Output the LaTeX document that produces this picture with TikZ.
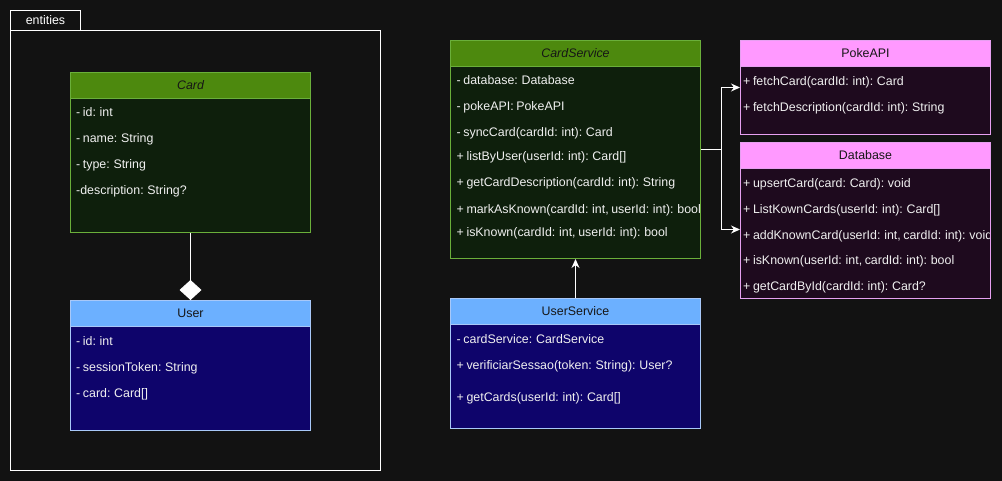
\documentclass[tikz,border=0pt]{standalone}
\usepackage{fontspec}
\setmainfont{Liberation Sans}[WordSpace=0.75]
\usetikzlibrary{arrows.meta,calc}
\definecolor{bg}{RGB}{18,18,18}
\definecolor{gHead}{RGB}{77,137,14}
\definecolor{gBody}{RGB}{14,31,12}
\definecolor{gLine}{RGB}{106,175,58}
\definecolor{bHead}{RGB}{108,176,255}
\definecolor{bBody}{RGB}{14,4,107}
\definecolor{bLine}{RGB}{168,200,248}
\definecolor{pHead}{RGB}{255,153,255}
\definecolor{pBody}{RGB}{30,10,30}
\definecolor{pLine}{RGB}{230,160,240}
\definecolor{txt}{RGB}{240,240,240}
\definecolor{htxt}{RGB}{22,22,22}
\begin{document}
\begin{tikzpicture}[x=1pt,y=-1pt,
  font=\fontsize{12.4}{14}\selectfont,
  box/.style={draw, line width=1pt, anchor=north west, inner sep=0pt},
  gbox/.style={box, draw=gLine, fill=gBody},
  bbox/.style={box, draw=bLine, fill=bBody},
  pbox/.style={box, draw=pLine, fill=pBody},
  head/.style={draw, line width=1pt, anchor=north west, minimum height=26pt, inner sep=0pt, text=htxt},
  ghead/.style={head, draw=gLine, fill=gHead},
  bhead/.style={head, draw=bLine, fill=bHead},
  phead/.style={head, draw=pLine, fill=pHead},
  row/.style={anchor=base west, inner sep=0pt, text=txt},
  frame/.style={draw=white, line width=1pt},
  conn/.style={draw=white, line width=1pt, -{Stealth[length=9pt,width=8pt]}},
  aggr/.style={draw=white, line width=1pt, -{Diamond[length=20pt,width=22pt,fill=white]}},
]
\useasboundingbox[fill=bg] (0,0) rectangle (1002,481);

% package frame
\node[frame, anchor=north west, minimum width=70pt, minimum height=20pt, inner sep=0pt, text=white] (enttab) at (10,10) {entities};
\node[frame, anchor=north west, minimum width=370pt, minimum height=440pt, inner sep=0pt] (entframe) at (10,30) {};

% Card
\node[gbox, minimum width=240pt, minimum height=160pt] (card) at (70,72) {};
\node[ghead, minimum width=240pt] (cardh) at (card.north west) {\itshape Card};
\node[row] (card1) at (76,117) {- id: int};
\node[row] (card2) at (76,143) {- name: String};
\node[row] (card3) at (76,169) {- type: String};
\node[row] (card4) at (76,195) {-description: String?};

% User
\node[bbox, minimum width=240pt, minimum height=130pt] (user) at (70,300) {};
\node[bhead, minimum width=240pt] (userh) at (user.north west) {User};
\node[row] (user1) at (76,345) {- id: int};
\node[row] (user2) at (76,371) {- sessionToken: String};
\node[row] (user3) at (76,397) {- card: Card[]};

% CardService
\node[gbox, minimum width=250pt, minimum height=218pt] (cs) at (450,40) {};
\node[ghead, minimum width=250pt] (csh) at (cs.north west) {\itshape CardService};
\begin{scope}
\clip (450,40) rectangle (699.5,258);
\node[row] (cs1) at (456.5,85) {- database: Database};
\node[row] (cs2) at (456.5,111) {- pokeAPI: PokeAPI};
\node[row] (cs3) at (456.5,137) {- syncCard(cardId: int): Card};
\node[row] (cs4) at (456.5,161) {+ listByUser(userId: int): Card[]};
\node[row] (cs5) at (456.5,187) {+ getCardDescription(cardId: int): String};
\node[row] (cs6) at (456.5,213.5) {+ markAsKnown(cardId: int, userId: int): bool};
\node[row] (cs7) at (456.5,237) {+ isKnown(cardId: int, userId: int): bool};
\end{scope}

% UserService
\node[bbox, minimum width=250pt, minimum height=130pt] (us) at (450,298) {};
\node[bhead, minimum width=250pt] (ush) at (us.north west) {UserService};
\node[row] (us1) at (456.5,343) {- cardService: CardService};
\node[row] (us2) at (456.5,369) {+ verificiarSessao(token: String): User?};
\node[row] (us3) at (456.5,401) {+ getCards(userId: int): Card[]};

% PokeAPI
\node[pbox, minimum width=250pt, minimum height=94pt] (poke) at (740,40) {};
\node[phead, minimum width=250pt] (pokeh) at (poke.north west) {PokeAPI};
\node[row] (poke1) at (743,85.5) {+ fetchCard(cardId: int): Card};
\node[row] (poke2) at (743,111.5) {+ fetchDescription(cardId: int): String};

% Database
\node[pbox, minimum width=250pt, minimum height=156pt] (db) at (740,142) {};
\node[phead, minimum width=250pt] (dbh) at (db.north west) {Database};
\begin{scope}
\clip (740,142) rectangle (989.5,298);
\node[row] (db1) at (743,188) {+ upsertCard(card: Card): void};
\node[row] (db2) at (743,214) {+ ListKownCards(userId: int): Card[]};
\node[row] (db3) at (743,239.5) {+ addKnownCard(userId: int, cardId: int): void};
\node[row] (db4) at (743,265) {+ isKnown(userId: int, cardId: int): bool};
\node[row] (db5) at (743,290.5) {+ getCardById(cardId: int): Card?};
\end{scope}

% connectors
\draw[aggr] (card.south) -- (user.north);
\draw[conn] (us.north) -- (cs.south);
\draw[conn] (cs.east) -- ++(20,0) |- (poke.west);
\draw[conn] (cs.east) -- ++(20,0) |- ([yshift=-9pt]db.west);
\end{tikzpicture}
\end{document}
